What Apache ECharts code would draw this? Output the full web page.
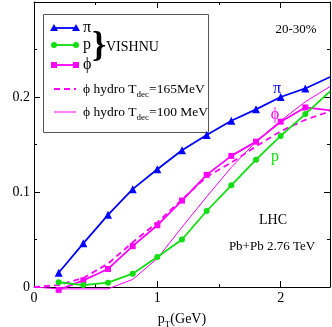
<!DOCTYPE html>
<html>
<head>
<meta charset="utf-8">
<script src="https://cdn.jsdelivr.net/npm/echarts@6/dist/echarts.min.js"></script>
<style>
  html, body { margin: 0; padding: 0; background: #fff; }
  #chart { width: 332px; height: 327px; }
</style>
</head>
<body>
<div id="chart"></div>
<script>
// VISHNU 计算点的 pT (最后一个点在右边框上，不画符号)
const ptVishnu = [0.2, 0.4, 0.6, 0.8, 1.0, 1.2, 1.4, 1.6, 1.8, 2.0, 2.2, 2.4]
const v2Pion = [0.015, 0.046, 0.076, 0.103, 0.124, 0.144, 0.160, 0.175, 0.187, 0.200, 0.209, 0.221]
const v2Proton = [0.005, 0.002, 0.0046, 0.014, 0.0316, 0.050, 0.080, 0.107, 0.134, 0.159, 0.182, 0.206]
const v2Phi = [-0.003, 0.007, 0.019, 0.043, 0.065, 0.091, 0.118, 0.138, 0.153, 0.174, 0.189, 0.186]
// 纯流体计算
const ptHydro = [0, 0.2, 0.4, 0.6, 0.8, 1.0, 1.2, 1.4, 1.6, 1.8, 2.0, 2.2, 2.4]
const v2PhiHydro165 = [0.0, 0.002, 0.0095, 0.0246, 0.047, 0.068, 0.092, 0.116, 0.131, 0.148, 0.164, 0.176, 0.185]
const v2PhiHydro100 = [0.0, -0.002, -0.002, -0.002, 0.008, 0.030, 0.063, 0.095, 0.126, 0.153, 0.175, 0.195, 0.211]
// 坐标轴范围和刻度
const xMin = 0
const xMax = 2.4
const xStep = 1
const yMin = 0
const yMax = 0.3
const yStep = 0.1

const serif = 'Liberation Serif'
const blue = '#0000ff'
const green = '#11dd11'
const magenta = '#ff00ff'

const pair = (xs, ys) => xs.map((x, i) => [x, ys[i]])
// 右边框上的终点不画符号
const markSize = size => val => (val[0] > 2.3 ? 0 : size)

const chartInstance = echarts.init(document.getElementById('chart'), null, { renderer: 'canvas' })

const axisCommon = {
  axisLine: { show: true, onZero: false, lineStyle: { color: '#000', width: 1 } },
  axisTick: { show: true, inside: true, length: 6, lineStyle: { color: '#000' } },
  minorTick: { show: true, splitNumber: 2, length: 3, lineStyle: { color: '#000' } },
  splitLine: { show: false }
}

// 图例中的线段 + 两端符号
const legendLeft = 54
const legendRight = 76
function legendLine (y, color, width, dash) {
  return {
    type: 'line',
    shape: { x1: legendLeft, y1: y, x2: legendRight, y2: y },
    style: { stroke: color, lineWidth: width, lineDash: dash || null }
  }
}
function legendMarks (y, color, kind) {
  return [legendLeft, legendRight].map(x => {
    if (kind === 'triangle') {
      return { type: 'polygon', shape: { points: [[x, y - 4], [x - 4, y + 3], [x + 4, y + 3]] }, style: { fill: color } }
    }
    if (kind === 'circle') {
      return { type: 'circle', shape: { cx: x, cy: y, r: 3 }, style: { fill: color } }
    }
    return { type: 'rect', shape: { x: x - 3, y: y - 3, width: 6, height: 6 }, style: { fill: color } }
  })
}
function label (text, x, y, size, color, align, weight) {
  return {
    type: 'text',
    x: x,
    y: y,
    style: {
      text: text,
      fill: color || '#000',
      fontFamily: serif,
      fontSize: size,
      fontWeight: weight || 'normal',
      align: align || 'left',
      verticalAlign: 'middle'
    }
  }
}
function hydroLabel (tdec, y) {
  return {
    type: 'text',
    x: 83,
    y: y,
    style: {
      text: '{a|ϕ hydro T}{s|dec}{a|=' + tdec + '}',
      verticalAlign: 'middle',
      rich: {
        a: { fontFamily: serif, fontSize: 13.5, lineHeight: 20, fill: '#000' },
        s: { fontFamily: serif, fontSize: 9, lineHeight: 9, verticalAlign: 'bottom', fill: '#000' }
      }
    }
  }
}

const option = {
  animation: false,
  backgroundColor: '#fff',
  grid: { left: 34, right: 2, top: 2, bottom: 40, containLabel: false, outerBoundsMode: 'none' },
  xAxis: [
    {
      ...axisCommon,
      type: 'value',
      min: xMin,
      max: xMax,
      interval: xStep,
      position: 'bottom',
      axisLabel: { show: true, showMaxLabel: false, margin: 4, color: '#000', fontFamily: serif, fontSize: 14 },
      name: '{a|p}{s|T}{a|(GeV)}',
      nameLocation: 'middle',
      nameGap: 22,
      nameTextStyle: {
        rich: {
          a: { fontFamily: serif, fontSize: 14, lineHeight: 20, color: '#000' },
          s: { fontFamily: serif, fontSize: 9, lineHeight: 9, verticalAlign: 'bottom', color: '#000' }
        }
      }
    },
    {
      ...axisCommon,
      type: 'value',
      min: xMin,
      max: xMax,
      interval: xStep,
      position: 'top',
      axisLabel: { show: false }
    }
  ],
  yAxis: [
    {
      ...axisCommon,
      type: 'value',
      min: yMin,
      max: yMax,
      interval: yStep,
      position: 'left',
      axisLabel: { show: true, showMaxLabel: false, margin: 4, color: '#000', fontFamily: serif, fontSize: 14 },
      name: '{a|v}{s|2}',
      nameLocation: 'middle',
      nameRotate: 90,
      nameGap: 22,
      nameTextStyle: {
        rich: {
          a: { fontFamily: serif, fontSize: 14, lineHeight: 20, color: '#000' },
          s: { fontFamily: serif, fontSize: 9, lineHeight: 9, verticalAlign: 'bottom', color: '#000' }
        }
      }
    },
    {
      ...axisCommon,
      type: 'value',
      min: yMin,
      max: yMax,
      interval: yStep,
      position: 'right',
      axisLabel: { show: false }
    }
  ],
  series: [
    {
      name: 'phi hydro Tdec=100 MeV',
      type: 'line',
      data: pair(ptHydro, v2PhiHydro100),
      showSymbol: false,
      clip: false,
      lineStyle: { color: magenta, width: 1 },
      itemStyle: { color: magenta }
    },
    {
      name: 'phi hydro Tdec=165MeV',
      type: 'line',
      data: pair(ptHydro, v2PhiHydro165),
      showSymbol: false,
      clip: false,
      lineStyle: { color: magenta, width: 1.8, type: [6, 4] },
      itemStyle: { color: magenta }
    },
    {
      name: 'phi',
      type: 'line',
      data: pair(ptVishnu, v2Phi),
      symbol: 'rect',
      symbolSize: markSize(6),
      clip: false,
      lineStyle: { color: magenta, width: 1.8 },
      itemStyle: { color: magenta }
    },
    {
      name: 'p',
      type: 'line',
      data: pair(ptVishnu, v2Proton),
      symbol: 'circle',
      symbolSize: markSize(6),
      clip: false,
      lineStyle: { color: green, width: 1.8 },
      itemStyle: { color: green }
    },
    {
      name: 'pi',
      type: 'line',
      data: pair(ptVishnu, v2Pion),
      symbol: 'triangle',
      symbolSize: markSize(8),
      clip: false,
      lineStyle: { color: blue, width: 1.8 },
      itemStyle: { color: blue }
    }
  ],
  graphic: [
    // 图例边框
    {
      type: 'rect',
      shape: { x: 43.5, y: 14.5, width: 165, height: 118 },
      style: { fill: null, stroke: '#555', lineWidth: 1 }
    },
    legendLine(28, blue, 1.8),
    ...legendMarks(28, blue, 'triangle'),
    label('π', 83, 28, 16),
    legendLine(45, green, 1.8),
    ...legendMarks(45, green, 'circle'),
    label('p', 83, 45, 16),
    legendLine(65, magenta, 1.8),
    ...legendMarks(65, magenta, 'rect'),
    label('ϕ', 83, 65, 16),
    label('}', 92, 47, 36, '#000', 'left', 'bold'),
    label('VISHNU', 106, 47, 14),
    legendLine(89, magenta, 1.8, [6, 4]),
    hydroLabel('165MeV', 89),
    legendLine(112, magenta, 1),
    hydroLabel('100 MeV', 112),
    // 曲线旁的标注
    label('π', 277, 89, 16, blue, 'center'),
    label('ϕ', 275, 115, 16, magenta, 'center'),
    label('p', 275, 157, 16, green, 'center'),
    label('20-30%', 296, 30, 13, '#000', 'center'),
    label('LHC', 273, 220, 14, '#000', 'center'),
    label('Pb+Pb 2.76 TeV', 272, 247, 13, '#000', 'center')
  ]
}

chartInstance.setOption(option)
</script>
</body>
</html>
